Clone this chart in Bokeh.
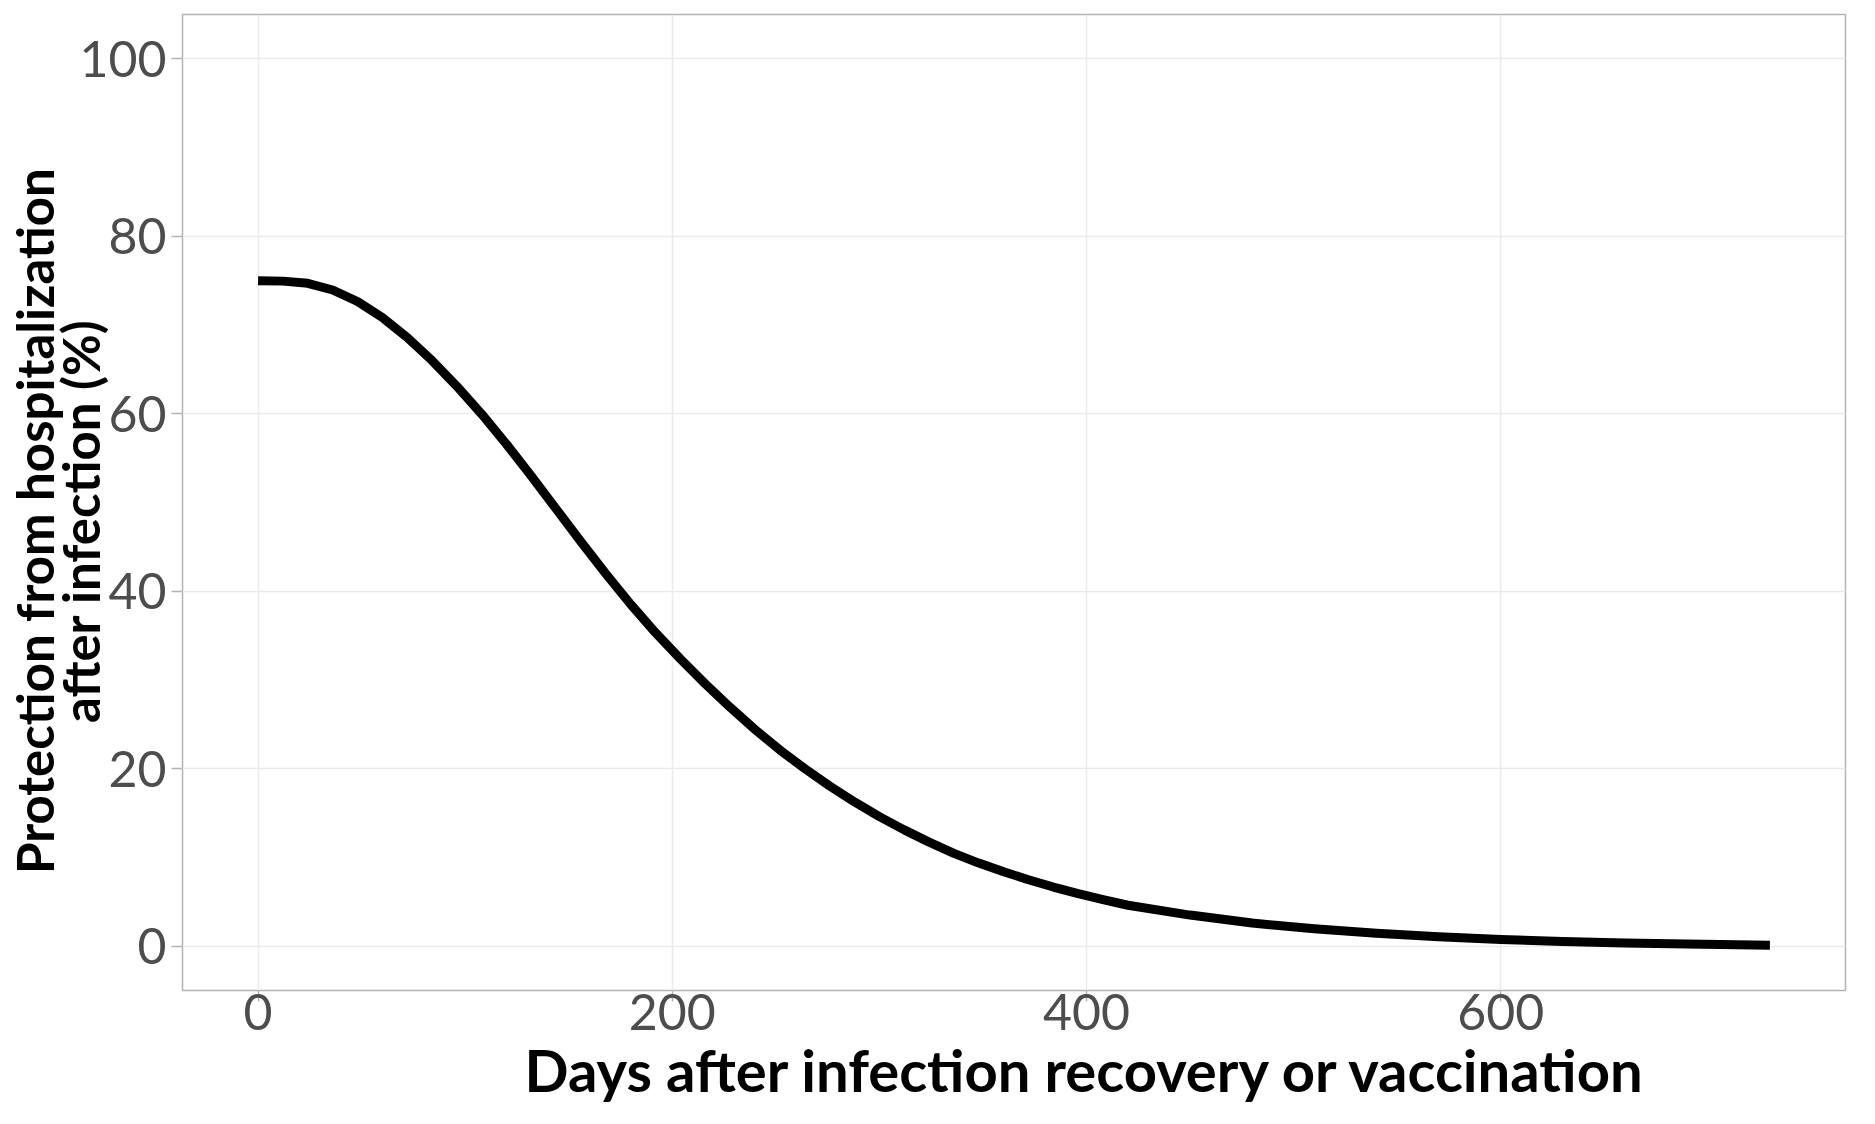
from bokeh.embed import file_html
from bokeh.resources import INLINE
from bokeh.models import ColumnDataSource, FixedTicker, Range1d, Title
from bokeh.plotting import figure

# protection curve (days, percent)
days = [0, 12, 24, 36, 48, 60, 72, 84, 96, 108, 120, 132, 144, 156, 168, 180,
        192, 204, 216, 228, 240, 252, 264, 276, 288, 300, 312, 324, 336, 348,
        360, 372, 384, 396, 408, 420, 450, 480, 510, 540, 570, 600, 630, 660,
        690, 730]
protection = [75.0, 74.95, 74.7, 73.95, 72.65, 70.85, 68.6, 66.0, 63.1, 59.95,
              56.55, 52.95, 49.25, 45.55, 41.95, 38.5, 35.3, 32.35, 29.55, 26.9,
              24.4, 22.1, 20.0, 18.05, 16.25, 14.6, 13.1, 11.72, 10.46, 9.36,
              8.38, 7.48, 6.66, 5.91, 5.23, 4.61, 3.5, 2.6, 1.95, 1.45, 1.05,
              0.75, 0.53, 0.36, 0.23, 0.1]

x_ticks = [0, 200, 400, 600]
y_ticks = [0, 20, 40, 60, 80, 100]

x_title = "Days after infection recovery or vaccination"
y_title = ["Protection from hospitalization", "after infection (%)"]

src = ColumnDataSource(data=dict(x=days, y=protection))

p = figure(width=1859, height=1108, output_backend="svg", toolbar_location=None,
           x_range=Range1d(-36.5, 766.5), y_range=Range1d(-5, 105))
p.min_border_left = 181
p.min_border_right = 14
p.min_border_top = 14
p.min_border_bottom = 118

p.line("x", "y", source=src, line_color="black", line_width=9, line_join="round")

p.outline_line_color = "#B3B3B3"
p.outline_line_width = 1.5
p.background_fill_color = "white"
p.border_fill_color = "white"

p.xaxis.ticker = FixedTicker(ticks=x_ticks)
p.yaxis.ticker = FixedTicker(ticks=y_ticks)
p.grid.grid_line_color = "#EBEBEB"
p.grid.grid_line_width = 1.5

for ax in (p.xaxis, p.yaxis):
    ax.axis_line_color = None
    ax.major_tick_line_color = "#B3B3B3"
    ax.major_tick_line_width = 1.5
    ax.major_tick_out = 11
    ax.major_tick_in = 0
    ax.minor_tick_line_color = None
    ax.major_label_text_font = "Lato"
    ax.major_label_text_font_size = "50px"
    ax.major_label_text_color = "#4D4D4D"

p.xaxis.major_label_standoff = -8
p.yaxis.major_label_standoff = 5

# trailing no-break spaces nudge the rotated title a little lower, as in the original
pad = "\u00a0" * 3
p.yaxis.axis_label = "\n".join(line + pad for line in y_title)
p.yaxis.axis_label_text_font = "Lato"
p.yaxis.axis_label_text_font_style = "bold"
p.yaxis.axis_label_text_font_size = "51px"
p.yaxis.axis_label_text_color = "black"
p.yaxis.axis_label_text_line_height = 0.77
p.yaxis.axis_label_standoff = -35

p.add_layout(Title(text=x_title, align="left", offset=342, vertical_align="bottom",
                   text_font="Lato", text_font_style="bold",
                   text_font_size="58px", text_color="black", standoff=1), "below")

open("out.html", "w").write(file_html(p, INLINE))
